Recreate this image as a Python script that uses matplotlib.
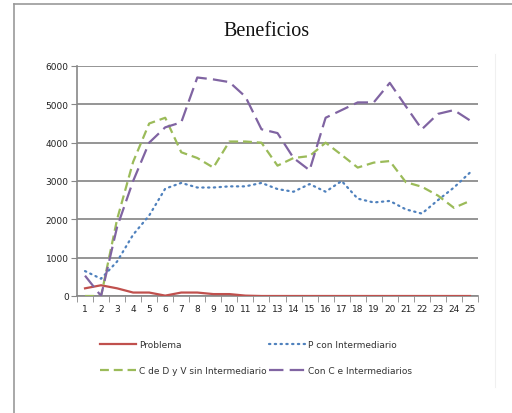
import matplotlib
matplotlib.use("Agg")
import matplotlib.pyplot as plt
from matplotlib.lines import Line2D

periods = list(range(1, 26))
problema = [200, 280, 200, 90, 90, 10, 90, 90, 50, 50, 10, 0, 0, 0, 0, 0, 0, 0, 0, 0, 0, 0, 0, 0, 0]
p_con_inter = [650, 450, 900, 1600, 2100, 2800, 2950, 2830, 2830, 2860, 2860, 2950, 2790, 2720, 2920,
               2720, 3000, 2540, 2440, 2480, 2260, 2150, 2500, 2830, 3220]
c_dyv_sin = [0, 0, 2000, 3500, 4500, 4650, 3750, 3600, 3350, 4030, 4030, 4000, 3400, 3600, 3650,
             4000, 3680, 3350, 3480, 3520, 2970, 2850, 2620, 2300, 2480]
con_c_inter = [530, 0, 1800, 3000, 4000, 4400, 4530, 5700, 5650, 5580, 5200, 4350, 4250, 3600, 3280,
               4650, 4850, 5050, 5050, 5560, 4950, 4350, 4750, 4850, 4580]
y_ticks = [0, 1000, 2000, 3000, 4000, 5000, 6000]

fig = plt.figure(figsize=(5.12, 4.14), dpi=100)
ax = fig.add_axes([77/512, 1-297/414, (478-77)/512, (297-67)/414])

ax.plot(periods, problema, color="#C0504D", lw=1.6, label="Problema", zorder=3)
ax.plot(periods, p_con_inter, color="#4F81BD", lw=1.6, linestyle=(0, (0.6, 2.0)),
        dash_capstyle="round", label="P con Intermediario", zorder=3)
ax.plot(periods, c_dyv_sin, color="#9BBB59", lw=1.6, linestyle=(0, (4, 2.2)),
        label="C de D y V sin Intermediario", zorder=3)
ax.plot(periods, con_c_inter, color="#8064A2", lw=1.6, linestyle=(0, (6.5, 2.8)),
        label="Con C e Intermediarios", zorder=3)

ax.set_xlim(0.5, 25.5)
ax.set_ylim(0, 6000)
ax.set_yticks(y_ticks)
ax.set_yticklabels([str(v) for v in y_ticks], fontsize=6.5, color="#222222")
ax.set_xticks(periods)
ax.set_xticklabels([str(p) for p in periods], fontsize=6.5, color="#222222")
ax.set_xticks([p + 0.5 for p in range(0, 26)], minor=True)
ax.tick_params(axis="x", which="major", length=0, pad=6)
ax.tick_params(axis="x", which="minor", length=4, color="#888888", direction="out")
ax.tick_params(axis="y", length=4, color="#888888", direction="out", pad=2)
ax.grid(axis="y", color="#8c8c8c", lw=1.3, zorder=1)
ax.set_axisbelow(True)
for s in ["top", "right"]:
    ax.spines[s].set_visible(False)
ax.spines["left"].set_color("#888888")
ax.spines["bottom"].set_color("#888888")
ax.spines["left"].set_linewidth(1.2)
ax.spines["bottom"].set_linewidth(1.2)

fig.text(266/512, 1-32/414, "Beneficios", ha="center", va="center",
         fontsize=14.5, family="Liberation Serif", color="#111111")

handles, labels = ax.get_legend_handles_labels()
order = [0, 2, 1, 3]
leg = fig.legend([handles[i] for i in order], [labels[i] for i in order],
                 loc="upper left", bbox_to_anchor=(92/512, 1-333/414), ncol=2,
                 frameon=False, fontsize=6.5, handlelength=4.0, handletextpad=0.3,
                 columnspacing=0.3, labelspacing=1.9, labelcolor="#333333")

fig.add_artist(Line2D([14/512, 14/512], [0, 1-5/414], color="#999999", lw=1.2,
                      transform=fig.transFigure))
fig.add_artist(Line2D([14/512, 1], [1-5/414, 1-5/414], color="#999999", lw=1.2,
                      transform=fig.transFigure))
fig.add_artist(Line2D([495/512, 495/512], [1-388/414, 1-55/414], color="#f0f0f0", lw=0.8,
                      transform=fig.transFigure))

fig.savefig("out.png", dpi=100)
